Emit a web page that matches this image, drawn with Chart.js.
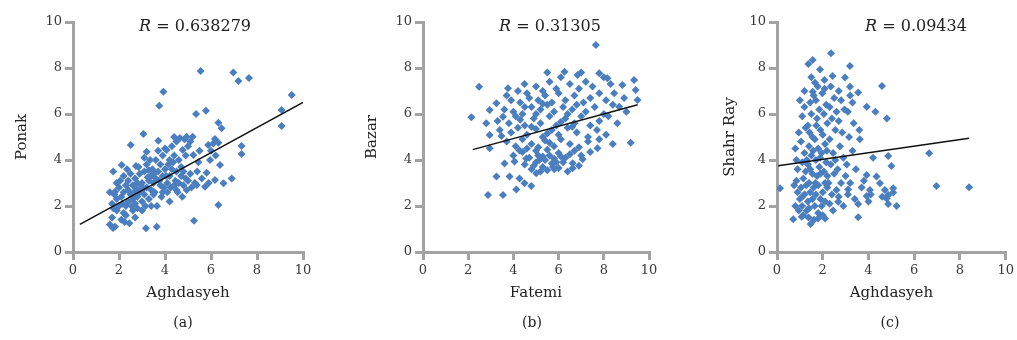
<!DOCTYPE html>
<html>
<head>
<meta charset="utf-8">
<script src="https://cdn.jsdelivr.net/npm/chart.js@4.4.0/dist/chart.umd.min.js"></script>
<style>
  body { margin: 0; background: #fff; }
  #wrap { position: relative; width: 1017px; height: 340px; overflow: hidden; font-family: 'DejaVu Serif', serif; color: #222; }
  .panel { position: absolute; top: 0; height: 340px; }
  .rlabel { position: absolute; top: 16px; width: 220px; text-align: center; font-size: 16px; }
  .caption { position: absolute; top: 314px; width: 60px; text-align: center; font-size: 14px; }
</style>
</head>
<body>
<div id="wrap">
  <div class="panel" style="left:0;width:340px"><canvas id="chart-a"></canvas></div>
  <div class="panel" style="left:340px;width:340px"><canvas id="chart-b"></canvas></div>
  <div class="panel" style="left:680px;width:337px"><canvas id="chart-c"></canvas></div>
  <div class="rlabel" style="left:85px"><i>R</i> = 0.638279</div>
  <div class="rlabel" style="left:440px"><i>R</i> = 0.31305</div>
  <div class="rlabel" style="left:806px"><i>R</i> = 0.09434</div>
  <div class="caption" style="left:153px">(a)</div>
  <div class="caption" style="left:502px">(b)</div>
  <div class="caption" style="left:860px">(c)</div>
</div>
<script>
// (a) Aghdasyeh vs Ponak
const ponakPoints = [
  [1.6,1.2],[1.74,1.04],[1.7,1.5],[1.9,1.8],[1.7,2.1],[1.8,2.5],[1.9,2.3],[2.0,2.0],[1.6,2.6],[1.75,3.5],[2.0,2.8],[1.9,3.0],[1.83,1.1],[1.75,1.9],[1.83,2.62],
  [2.1,1.4],[2.2,1.7],[2.3,2.0],[2.4,2.2],[2.1,2.4],[2.2,2.6],[2.3,2.9],[2.4,3.1],[2.5,2.5],[2.45,1.25],[2.2,3.3],[2.12,3.78],[2.51,4.65],[2.3,1.6],[2.4,2.7],[2.5,3.4],[2.35,3.6],[2.15,2.1],[2.25,1.3],[2.05,3.1],
  [2.6,1.8],[2.7,2.1],[2.8,2.4],[2.9,2.6],[2.6,2.9],[2.7,3.2],[2.8,3.0],[2.9,3.4],[3.0,2.2],[2.74,3.74],[2.6,2.3],[2.8,1.9],[2.95,2.9],[2.65,2.6],[2.85,3.7],[3.0,3.0],[2.7,1.5],[3.0,1.8],[2.55,2.0],[2.75,2.75],
  [3.06,5.13],[3.2,4.36],[3.17,1.03],[3.1,2.5],[3.2,2.8],[3.3,3.1],[3.4,3.3],[3.1,3.5],[3.2,3.8],[3.3,2.3],[3.4,2.7],[3.5,3.0],[3.15,2.0],[3.35,4.0],[3.45,3.6],[3.25,3.25],[3.05,2.75],[3.4,2.0],[3.5,2.5],[3.3,3.55],[3.1,4.1],
  [3.64,1.1],[3.71,4.84],[3.75,6.36],[3.93,6.97],[3.6,3.2],[3.7,3.5],[3.8,2.9],[3.9,3.3],[3.6,4.0],[3.7,4.4],[3.8,3.8],[3.9,4.2],[4.0,3.6],[3.55,2.6],[3.85,2.4],[3.95,2.8],[3.65,2.0],[3.75,3.1],[4.0,4.5],[3.9,2.6],[3.55,3.45],
  [4.07,4.43],[4.1,3.0],[4.2,3.3],[4.3,3.6],[4.4,2.9],[4.2,4.0],[4.3,4.6],[4.4,4.2],[4.5,3.5],[4.1,2.6],[4.25,2.8],[4.45,3.1],[4.35,3.9],[4.15,3.8],[4.5,4.8],[4.4,5.0],[4.2,2.2],[4.5,2.7],[4.05,3.3],
  [4.65,4.96],[4.77,4.43],[4.6,3.0],[4.7,3.3],[4.8,2.9],[4.9,3.2],[4.6,4.0],[4.7,3.7],[4.9,4.2],[5.0,3.1],[4.94,2.7],[4.94,5.01],[4.8,3.5],[4.55,2.6],[4.85,4.9],[5.0,4.6],[4.75,2.4],
  [5.2,5.01],[5.23,4.22],[5.26,1.36],[5.38,2.91],[5.35,6.0],[5.1,3.4],[5.3,3.0],[5.15,2.8],[5.4,3.5],[5.5,4.4],[5.55,7.87],[5.45,3.9],[5.1,4.8],
  [5.74,2.84],[5.78,6.14],[5.81,3.45],[5.88,4.65],[5.96,4.0],[6.1,4.72],[6.17,3.13],[6.17,4.91],[6.32,5.62],[6.32,4.75],[6.32,2.04],[6.39,3.78],[6.46,5.38],[5.6,3.2],[5.9,3.0],[6.0,4.4],[6.2,4.2],
  [6.54,2.99],[6.9,3.2],[6.97,7.8],[7.19,7.43],[7.33,4.61],[7.33,4.26],[7.65,7.57],[9.07,6.17],[9.07,5.48],[9.51,6.83]
];
const ponakFit = [[0.3,1.2],[10,6.5]];

// (b) Fatemi vs Bazar
const bazarPoints = [
  [2.14,5.86],[2.48,7.19],[2.88,2.48],[2.95,5.09],[2.95,4.51],[2.8,5.6],[2.95,6.17],[3.25,6.47],[3.54,5.88],[3.54,2.48],[3.25,3.28],[3.47,5.04],[3.76,7.12],[3.61,3.85],[3.83,3.28],[4.13,2.72],[4.27,3.2],[4.49,2.99],[4.79,2.87],[4.05,3.93],[4.27,4.41],[4.57,4.07],[4.49,7.3],[5.01,3.42],
  [7.65,9.0],[6.26,7.84],[6.84,7.7],[7.8,7.77],[8.16,7.55],[9.34,7.48],[9.41,7.04],[8.82,7.26],[9.49,6.61],[8.68,6.32],[8.46,6.9],[9.19,4.75],[7.72,4.51],[7.06,4.03],[6.62,3.86],[6.62,3.64],[5.81,3.6],
  [4.2,7.0],[4.6,6.9],[5.0,7.2],[5.3,7.0],[5.6,7.4],[5.9,7.1],[6.1,7.6],[6.5,7.3],[6.9,7.1],[7.2,7.4],[7.5,7.2],[8.0,7.6],[8.3,7.3],[5.5,7.8],[7.0,7.8],
  [3.9,6.6],[4.3,6.5],[4.7,6.7],[5.1,6.6],[5.4,6.8],[5.7,6.5],[6.0,6.9],[6.3,6.6],[6.7,6.8],[7.1,6.5],[7.4,6.7],[7.8,6.9],[8.1,6.6],[4.5,6.3],[5.2,6.2],[3.7,6.8],[8.9,6.7],
  [3.6,6.2],[4.0,6.1],[4.4,6.0],[4.8,6.3],[5.0,6.0],[5.5,6.4],[5.8,6.1],[6.2,6.3],[6.4,6.0],[6.8,6.4],[7.2,6.1],[7.6,6.3],[8.0,6.0],[8.4,6.4],[5.3,6.45],[6.6,6.2],[9.0,6.1],
  [3.3,5.7],[3.8,5.6],[4.1,5.9],[4.5,5.5],[4.9,5.8],[5.2,5.6],[5.6,5.9],[5.9,5.5],[6.3,5.8],[6.7,5.6],[7.0,5.9],[7.4,5.5],[7.8,5.7],[8.2,5.9],[4.3,5.75],[6.1,5.65],[8.6,5.6],
  [3.4,5.3],[3.9,5.2],[4.2,5.4],[4.6,5.1],[5.0,5.35],[5.3,5.0],[5.7,5.3],[6.0,5.1],[6.4,5.4],[6.8,5.2],[7.3,5.0],[7.7,5.3],[8.1,5.1],[4.8,5.45],[5.5,5.15],[6.6,5.45],
  [3.7,4.8],[4.1,4.6],[4.4,4.9],[4.8,4.7],[5.1,4.55],[5.4,4.85],[5.8,4.6],[6.1,4.9],[6.5,4.7],[6.9,4.55],[7.3,4.8],[7.8,4.9],[8.4,4.7],[5.6,4.75],[4.6,4.5],
  [4.0,4.2],[4.4,4.35],[4.7,4.1],[5.0,4.4],[5.3,4.15],[5.5,4.45],[5.8,4.05],[6.0,4.3],[6.3,4.1],[6.7,4.4],[7.0,4.2],[7.4,4.35],[5.15,4.0],[6.5,4.25],
  [4.5,3.8],[4.8,3.6],[5.0,3.9],[5.3,3.7],[5.5,3.55],[5.7,3.85],[6.0,3.65],[6.2,3.9],[6.4,3.5],[6.9,3.75],[5.2,3.5],[4.9,3.75],
  [5.4,4.0],[5.6,4.2],[5.9,3.9],[6.1,4.15],[5.1,4.2],[5.75,3.7]
];
const bazarFit = [[2.2,4.45],[9.5,6.4]];

// (c) Aghdasyeh vs Shahr Ray
const shahrRayPoints = [
  [2.36,8.64],[1.56,8.35],[1.37,8.17],[1.88,7.94],[2.43,7.65],[2.07,7.48],[3.19,8.09],[2.97,7.59],[4.59,7.22],[3.19,7.19],[1.66,7.36],[1.56,6.97],[3.92,6.32],[4.8,5.8],[3.55,6.93],
  [3.62,4.9],[0.13,2.77],[3.92,3.35],[4.35,3.28],[4.5,2.99],[4.06,2.7],[3.92,2.43],[3.55,2.09],[3.55,1.51],[3.11,2.72],[2.68,2.19],[2.1,1.46],[1.8,1.46],[1.47,1.22],[0.71,1.42],[1.08,1.53],
  [4.86,2.48],[4.86,4.17],[5.0,3.74],[6.65,4.29],[6.97,2.87],[8.4,2.81],[4.72,2.7],[5.08,2.77],[5.08,2.59],[4.79,2.33],[4.86,2.09],[5.23,2.0],[4.6,2.4],
  [0.8,2.0],[0.9,2.6],[0.85,3.1],[0.95,1.8],[0.75,2.9],[0.9,3.6],[0.8,4.5],[1.0,2.3],[0.95,5.2],[0.85,4.0],
  [1.1,2.0],[1.2,2.5],[1.05,2.8],[1.15,3.2],[1.25,3.5],[1.1,3.9],[1.2,4.3],[1.05,4.8],[1.25,5.4],[1.1,5.9],[1.2,6.3],[1.3,1.8],[1.15,1.6],[1.28,2.9],[1.0,6.6],[1.3,4.0],[1.2,7.0],[1.1,2.4],
  [1.35,2.2],[1.45,2.6],[1.4,3.0],[1.55,3.4],[1.35,3.8],[1.5,4.2],[1.4,4.6],[1.55,5.0],[1.35,5.5],[1.5,6.0],[1.45,6.5],[1.4,1.9],[1.55,2.3],[1.6,2.8],[1.45,3.6],[1.5,7.6],[1.38,1.5],[1.58,4.4],[1.42,5.2],[1.6,6.8],
  [1.65,2.0],[1.7,2.5],[1.8,2.9],[1.75,3.3],[1.85,3.7],[1.7,4.0],[1.8,4.5],[1.65,4.9],[1.9,5.3],[1.75,5.8],[1.85,6.2],[1.7,6.6],[1.8,1.7],[1.9,2.3],[1.68,3.0],[1.88,4.1],[1.78,7.2],[1.9,3.4],[1.72,5.5],[1.62,1.4],
  [1.95,2.0],[2.0,2.6],[2.1,3.0],[2.05,3.5],[2.15,3.9],[1.95,4.3],[2.1,4.7],[2.0,5.1],[2.2,5.6],[2.05,6.0],[2.15,6.4],[1.98,6.9],[2.1,2.2],[2.2,2.8],[2.0,1.6],[2.18,4.4],[2.08,7.1],[2.2,3.3],
  [2.3,2.1],[2.4,2.5],[2.25,3.0],[2.5,3.4],[2.35,3.8],[2.45,4.3],[2.3,4.9],[2.55,5.3],[2.4,5.8],[2.3,6.3],[2.5,6.7],[2.6,2.7],[2.45,1.8],[2.35,7.2],[2.55,4.0],[2.6,6.1],
  [2.7,2.4],[2.8,3.0],[2.65,3.6],[2.9,4.1],[2.75,4.6],[2.85,5.2],[2.7,5.7],[2.95,6.2],[2.8,6.6],[3.0,3.3],[2.9,2.0],[2.7,7.0],
  [3.1,2.5],[3.2,3.0],[3.05,3.8],[3.3,4.4],[3.15,5.0],[3.35,5.6],[3.1,6.1],[3.3,6.5],[3.45,3.6],[3.4,2.3],[3.2,6.8],
  [3.7,2.8],[3.8,3.1],[4.0,2.2],[4.2,4.1],[3.6,5.3],[4.3,6.1],[4.1,2.5]
];
const shahrRayFit = [[0.05,3.75],[8.4,4.95]];

const axisTicks = [0, 2, 4, 6, 8, 10];
const axisGray = '#a3a3a3';
const markerBlue = '#4a7ebf';

function toXY(pairs) {
  return pairs.map(p => ({ x: p[0], y: p[1] }));
}

function axis(title, titlePad, afterFit) {
  return {
    type: 'linear',
    min: 0,
    max: 10,
    afterBuildTicks: s => { s.ticks = axisTicks.map(v => ({ value: v })); },
    ticks: { padding: 3, color: '#3a3a3a', font: { family: 'DejaVu Serif', size: 13 } },
    grid: { drawOnChartArea: false, drawTicks: true, tickLength: 8, color: axisGray, lineWidth: 3 },
    border: { color: axisGray, width: 3 },
    title: { display: true, text: title, color: '#222', font: { family: 'DejaVu Serif', size: 15 }, padding: titlePad },
    afterFit: afterFit
  };
}

function makePanel(id, points, fit, xTitle, yTitle, yWidth, yTitleLeft, padRight) {
  return new Chart(document.getElementById(id), {
    type: 'scatter',
    data: {
      datasets: [
        {
          data: toXY(fit),
          showLine: true,
          borderColor: '#111',
          borderWidth: 1.5,
          pointRadius: 0
        },
        {
          data: toXY(points),
          pointStyle: 'rectRot',
          pointRadius: 4,
          pointBackgroundColor: markerBlue,
          pointBorderWidth: 0
        }
      ]
    },
    options: {
      responsive: true,
      maintainAspectRatio: false,
      animation: false,
      layout: { padding: { top: 22, right: padRight, bottom: 28, left: 0 } },
      plugins: { legend: { display: false }, tooltip: { enabled: false } },
      scales: {
        x: axis(xTitle, { top: 0, bottom: 10 }, s => { s.height = 60; }),
        y: axis(yTitle, { top: yTitleLeft, bottom: 0 }, s => { s.width = yWidth; })
      }
    }
  });
}

makePanel('chart-a', ponakPoints, ponakFit, 'Aghdasyeh', 'Ponak', 73, 13, 37);
makePanel('chart-b', bazarPoints, bazarFit, 'Fatemi', 'Bazar', 83, 23, 31);
makePanel('chart-c', shahrRayPoints, shahrRayFit, 'Aghdasyeh', 'Shahr Ray', 97, 41, 11);
</script>
</body>
</html>
